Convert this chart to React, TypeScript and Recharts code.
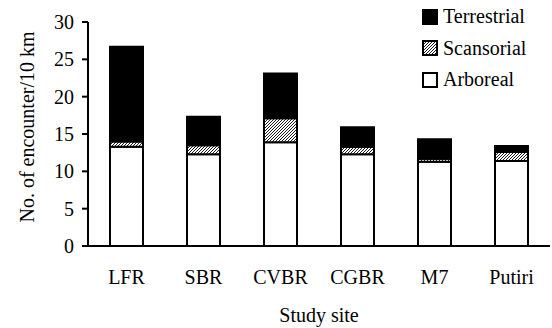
import React from "react";
import { BarChart, Bar, XAxis, YAxis, Legend } from "recharts";

const sites = ["LFR", "SBR", "CVBR", "CGBR", "M7", "Putiri"];
const arboreal = [13.3, 12.3, 13.9, 12.3, 11.3, 11.4];
const scansorial = [0.7, 1.2, 3.2, 1.0, 0.4, 1.2];
const terrestrial = [12.7, 3.8, 6.0, 2.6, 2.6, 0.8];
const yTicks = [0, 5, 10, 15, 20, 25, 30];
const boundaryTicks = [0, 1, 2, 3, 4, 5, 6];

const data = sites.map((s, i) => ({
  site: s,
  idx: i + 0.5,
  Arboreal: arboreal[i],
  Scansorial: scansorial[i],
  Terrestrial: terrestrial[i],
}));

const FONT = "'Liberation Serif', 'Times New Roman', serif";

const legendItems = [
  { name: "Terrestrial", fill: "#000" },
  { name: "Scansorial", fill: "url(#hatchL)" },
  { name: "Arboreal", fill: "#fff" },
];

const HatchPattern = ({ id }: { id: string }) => (
  <pattern id={id} patternUnits="userSpaceOnUse" width={3} height={3}>
    <rect width={3} height={3} fill="#fff" />
    <path d="M-1,1 l2,-2 M0,3 l3,-3 M2,4 l2,-2" stroke="#000" strokeWidth={0.9} />
  </pattern>
);

const LegendContent = () => (
  <div style={{ fontFamily: FONT, fontSize: 20, color: "#000" }}>
    {legendItems.map((it) => (
      <div key={it.name} style={{ display: "flex", alignItems: "center", height: 31.5 }}>
        <svg width={16} height={16} style={{ marginRight: 5 }}>
          <defs>
            <HatchPattern id="hatchL" />
          </defs>
          <rect x={1} y={1} width={14} height={14} fill={it.fill} stroke="#000" strokeWidth={2} />
        </svg>
        <span>{it.name}</span>
      </div>
    ))}
  </div>
);

export default function App() {
  return (
    <div style={{ position: "absolute", left: 0, top: 0 }}>
      <style>{`body{margin:0}`}</style>
      <BarChart
        width={552}
        height={328}
        data={data}
        margin={{ top: 22, right: 2, bottom: 0, left: 0 }}
        barCategoryGap={0}
      >
        <defs>
          <HatchPattern id="hatch" />
        </defs>
        <XAxis
          xAxisId="b"
          type="number"
          dataKey="idx"
          domain={[0, 6]}
          ticks={boundaryTicks}
          tick={false}
          tickSize={6}
          height={6}
          axisLine={{ stroke: "#000", strokeWidth: 2 }}
          tickLine={{ stroke: "#000", strokeWidth: 2 }}
          allowDataOverflow
        />
        <XAxis
          xAxisId="cat"
          dataKey="site"
          axisLine={false}
          tickLine={false}
          tickMargin={12}
          height={76}
          tick={{ fill: "#000", fontSize: 20, fontFamily: FONT }}
          label={{
            value: "Study site",
            position: "insideBottom",
            offset: 6,
            style: { fill: "#000", fontSize: 20, fontFamily: FONT },
          }}
        />
        <YAxis
          width={88}
          domain={[0, 30]}
          ticks={yTicks}
          interval={0}
          tickSize={6}
          tickMargin={8}
          axisLine={{ stroke: "#000", strokeWidth: 2 }}
          tickLine={{ stroke: "#000", strokeWidth: 2 }}
          tick={{ fill: "#000", fontSize: 20, fontFamily: FONT }}
          label={{
            value: "No. of encounter/10 km",
            angle: -90,
            position: "insideLeft",
            offset: 27,
            dy: -7,
            style: { fill: "#000", fontSize: 20, fontFamily: FONT, textAnchor: "middle" },
          }}
        />
        <Legend
          layout="vertical"
          align="center"
          verticalAlign="middle"
          content={<LegendContent />}
          wrapperStyle={{ left: 422, top: 1, width: 130 }}
        />
        <Bar
          dataKey="Arboreal"
          stackId="a"
          xAxisId="cat"
          barSize={33}
          fill="#fff"
          stroke="#000"
          strokeWidth={2}
          isAnimationActive={false}
        />
        <Bar
          dataKey="Scansorial"
          stackId="a"
          xAxisId="cat"
          barSize={33}
          fill="url(#hatch)"
          stroke="#000"
          strokeWidth={2}
          isAnimationActive={false}
        />
        <Bar
          dataKey="Terrestrial"
          stackId="a"
          xAxisId="cat"
          barSize={33}
          fill="#000"
          stroke="#000"
          strokeWidth={2}
          isAnimationActive={false}
        />
      </BarChart>
    </div>
  );
}
